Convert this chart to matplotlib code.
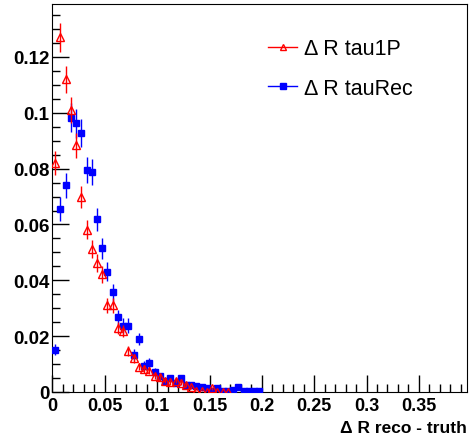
import numpy as np
import matplotlib
matplotlib.use('Agg')
import matplotlib.pyplot as plt
from matplotlib.lines import Line2D
from matplotlib.ticker import MultipleLocator

plt.rcParams['font.family'] = ['Liberation Sans', 'DejaVu Sans']

# Histogram data (bin width 0.005)
bin_width = 0.005
tau1p_vals = [0.082, 0.127, 0.112, 0.101, 0.0883, 0.0698, 0.0582, 0.0513, 0.0461, 0.0421,
              0.031, 0.031, 0.0228, 0.0219, 0.0146, 0.012, 0.0091, 0.0082, 0.0076, 0.0058,
              0.0052, 0.004, 0.0035, 0.004, 0.0033, 0.0025, 0.0017, 0.0005, 0.0005, 0.0,
              0.0013, 0.0, 0.0, 0.0]
tau1p_errs = [0.0042, 0.0052, 0.0049, 0.0047, 0.0044, 0.0039, 0.0035, 0.0033, 0.0032, 0.003,
              0.0026, 0.0026, 0.0022, 0.0022, 0.0018, 0.0016, 0.0014, 0.0013, 0.0013, 0.0011,
              0.0011, 0.0009, 0.0009, 0.0009, 0.0008, 0.0007, 0.0006, 0.0003, 0.0003, 0.0,
              0.0005, 0.0, 0.0, 0.0]
taurec_vals = [0.0152, 0.0656, 0.074, 0.0983, 0.0963, 0.0928, 0.0795, 0.0787, 0.0619, 0.0515,
               0.043, 0.0357, 0.0268, 0.0238, 0.0238, 0.0134, 0.019, 0.0094, 0.0104, 0.0073,
               0.0056, 0.004, 0.0049, 0.0032, 0.0049, 0.0026, 0.0026, 0.002, 0.0017, 0.0013,
               0.0005, 0.0013, 0.0005, 0.0005, 0.0008, 0.0017, 0.0003, 0.0005, 0.0003, 0.0002]
taurec_errs = [0.002, 0.0043, 0.0045, 0.0052, 0.0052, 0.0051, 0.0047, 0.0047, 0.0041, 0.0038,
               0.0034, 0.0031, 0.0027, 0.0026, 0.0026, 0.0019, 0.0023, 0.0016, 0.0017, 0.0014,
               0.0012, 0.001, 0.0012, 0.0009, 0.0012, 0.0008, 0.0008, 0.0007, 0.0007, 0.0006,
               0.0004, 0.0006, 0.0004, 0.0004, 0.0005, 0.0007, 0.0003, 0.0004, 0.0003, 0.0002]

x_red = (np.arange(len(tau1p_vals)) + 0.5) * bin_width
x_blue = (np.arange(len(taurec_vals)) + 0.5) * bin_width

xtick_vals = [0, 0.05, 0.1, 0.15, 0.2, 0.25, 0.3, 0.35]
xtick_text = ['0', '0.05', '0.1', '0.15', '0.2', '0.25', '0.3', '0.35']
ytick_vals = [0, 0.02, 0.04, 0.06, 0.08, 0.1, 0.12]
ytick_text = ['0', '0.02', '0.04', '0.06', '0.08', '0.1', '0.12']

fig = plt.figure(figsize=(4.70, 4.39), dpi=100)
ax = fig.add_axes([0.1117, 0.1048, 0.882, 0.884])

ax.errorbar(x_blue, taurec_vals, yerr=taurec_errs, fmt='s', color='blue',
            ms=4.5, elinewidth=1, ecolor='blue', capsize=0, zorder=3)
ax.errorbar(x_red, tau1p_vals, yerr=tau1p_errs, fmt='^', mfc='none', mec='red',
            mew=1, ms=5.5, elinewidth=1, ecolor='red', capsize=0, zorder=4)

ax.set_xlim(0, 0.396)
ax.set_ylim(0, 0.139)

ax.xaxis.set_minor_locator(MultipleLocator(0.01))
ax.yaxis.set_minor_locator(MultipleLocator(0.005))
ax.tick_params(which='both', direction='in', top=False, right=False, width=1)
ax.tick_params(which='major', length=12)
ax.tick_params(which='minor', length=6)
ax.tick_params(axis='x', which='major', labelsize=13, pad=3.5)
ax.tick_params(axis='y', which='major', labelsize=13.5, pad=2)

ax.set_xticks(xtick_vals)
ax.set_xticklabels(xtick_text, fontweight='bold')
ax.set_yticks(ytick_vals)
ax.set_yticklabels(ytick_text, fontweight='bold')

fig.text(0.994, 0.006, 'Δ R reco - truth', ha='right', va='bottom',
         fontsize=12.5, fontweight='bold')

handles = [
    Line2D([0], [0], color='red', lw=1, marker='^', mfc='none', mec='red', ms=5),
    Line2D([0], [0], color='blue', lw=1, marker='s', ms=4),
]
ax.legend(handles, ['Δ R tau1P', 'Δ R tauRec'], loc='upper left',
          bbox_to_anchor=(0.552, 0.93), bbox_transform=fig.transFigure,
          frameon=False, fontsize=15.5, handlelength=1.35, handletextpad=0.3,
          labelspacing=0.85, borderaxespad=0)

fig.savefig('out.png', dpi=100)
